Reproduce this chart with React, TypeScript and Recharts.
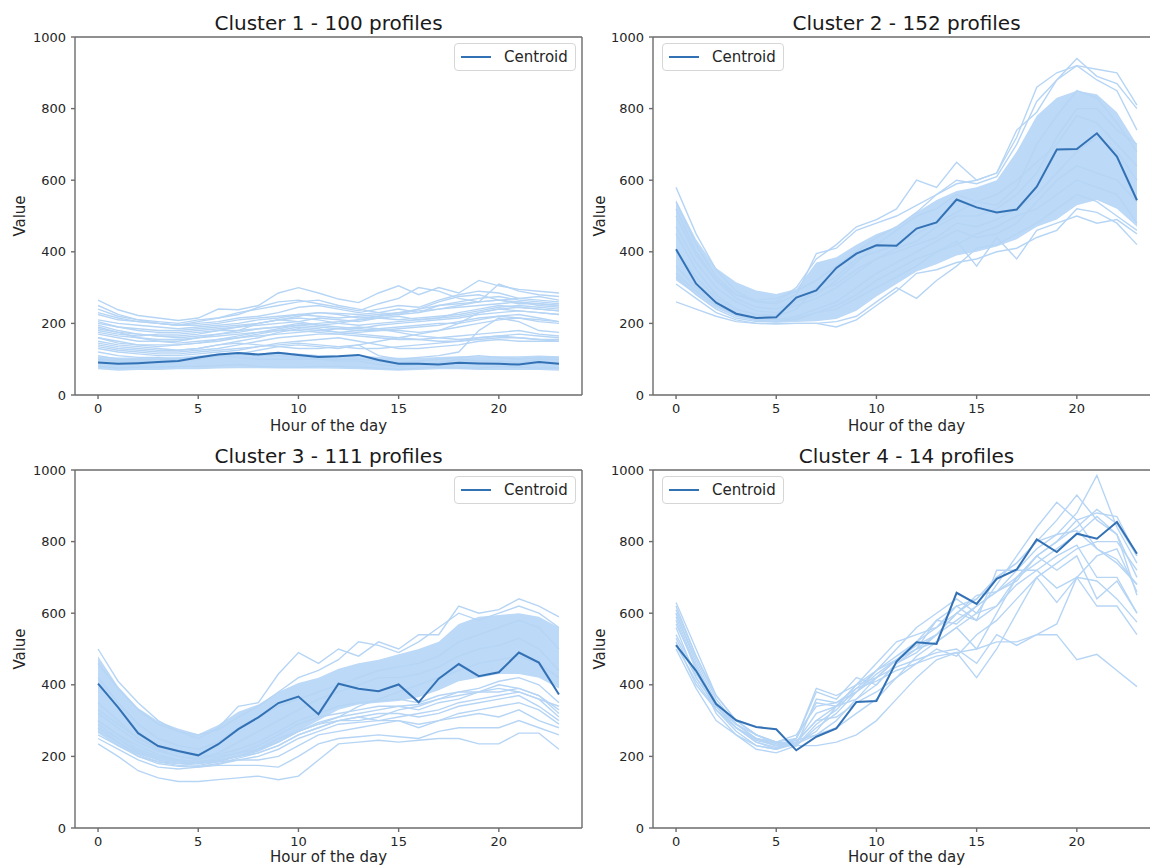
import React from "react";
import { ComposedChart, Line, Area, XAxis, YAxis, Legend } from "recharts";

const hours = [0, 1, 2, 3, 4, 5, 6, 7, 8, 9, 10, 11, 12, 13, 14, 15, 16, 17, 18, 19, 20, 21, 22, 23];
const xTicks = [0, 5, 10, 15, 20];
const yTicks = [0, 200, 400, 600, 800, 1000];

// Cluster 1 - 100 profiles
const c1Centroid = [91, 87, 89, 92, 95, 105, 113, 117, 113, 118, 112, 106, 108, 112, 98, 87, 87, 85, 90, 88, 87, 85, 92, 87];
const c1Low = [72, 68, 70, 70, 72, 72, 74, 75, 75, 74, 74, 74, 73, 72, 70, 68, 70, 72, 72, 70, 70, 70, 70, 68];
const c1High = [108, 105, 105, 105, 106, 110, 116, 120, 116, 120, 116, 112, 110, 112, 106, 104, 104, 106, 108, 108, 108, 108, 110, 108];
const c1Profiles: number[][] = [
    [265, 238, 222, 215, 208, 215, 240, 238, 250, 285, 300, 285, 268, 258, 285, 305, 280, 300, 285, 320, 305, 295, 290, 285],
    [240, 220, 210, 205, 200, 210, 215, 225, 245, 260, 265, 255, 245, 235, 255, 270, 300, 290, 270, 260, 310, 290, 280, 275],
    [225, 210, 205, 200, 195, 200, 205, 215, 220, 230, 245, 250, 240, 230, 240, 250, 245, 265, 280, 290, 285, 270, 275, 265],
    [210, 200, 195, 190, 185, 190, 195, 200, 210, 215, 225, 230, 228, 225, 230, 240, 230, 240, 250, 260, 265, 255, 255, 250],
    [200, 190, 180, 175, 175, 180, 185, 190, 195, 200, 205, 215, 210, 205, 215, 220, 210, 215, 230, 240, 250, 245, 240, 235],
    [190, 175, 170, 165, 160, 165, 170, 175, 185, 190, 200, 195, 190, 185, 195, 200, 205, 210, 215, 225, 230, 235, 230, 225],
    [180, 170, 165, 170, 170, 175, 180, 180, 185, 190, 195, 190, 185, 180, 180, 180, 175, 180, 190, 200, 210, 215, 205, 200],
    [170, 160, 150, 150, 145, 150, 155, 160, 170, 180, 190, 185, 175, 180, 185, 190, 195, 200, 200, 210, 220, 225, 215, 205],
    [160, 150, 140, 135, 140, 145, 150, 160, 165, 170, 175, 180, 185, 190, 185, 175, 165, 160, 155, 160, 165, 170, 165, 160],
    [150, 140, 135, 130, 125, 130, 140, 150, 160, 175, 185, 180, 175, 170, 165, 160, 155, 150, 150, 155, 160, 160, 155, 150],
    [140, 130, 125, 120, 120, 125, 130, 140, 150, 160, 165, 170, 170, 165, 160, 155, 155, 160, 165, 170, 175, 180, 170, 165],
    [130, 120, 115, 110, 110, 115, 120, 125, 135, 145, 150, 155, 160, 150, 140, 130, 130, 135, 140, 150, 155, 150, 150, 150],
    [145, 135, 130, 125, 125, 130, 140, 145, 140, 135, 130, 130, 135, 140, 110, 100, 105, 110, 120, 180, 215, 205, 180, 175],
    [120, 110, 105, 105, 100, 105, 110, 115, 125, 135, 140, 135, 130, 140, 150, 160, 170, 180, 200, 230, 240, 245, 240, 235],
    [185, 175, 160, 150, 150, 160, 170, 180, 200, 210, 205, 195, 200, 210, 220, 225, 230, 250, 260, 270, 275, 265, 260, 255],
    [250, 225, 210, 200, 195, 205, 215, 230, 240, 250, 260, 265, 250, 240, 230, 225, 240, 260, 275, 280, 265, 260, 250, 245],
    [230, 215, 205, 200, 195, 195, 200, 210, 215, 220, 225, 220, 215, 220, 225, 230, 235, 240, 245, 250, 255, 260, 255, 250],
    [205, 190, 185, 180, 180, 185, 190, 195, 200, 210, 215, 210, 200, 195, 200, 205, 210, 215, 220, 230, 240, 235, 230, 225],
    [175, 165, 160, 155, 155, 160, 165, 170, 175, 180, 180, 175, 170, 175, 180, 185, 190, 195, 205, 215, 220, 215, 210, 205],
    [135, 125, 120, 115, 115, 120, 125, 130, 135, 140, 145, 140, 135, 130, 130, 135, 140, 145, 150, 160, 165, 160, 155, 155],
    [195, 180, 170, 165, 165, 170, 180, 190, 200, 210, 220, 230, 225, 215, 220, 230, 240, 250, 255, 260, 265, 270, 265, 260],
    [160, 145, 140, 140, 140, 145, 155, 165, 175, 185, 195, 200, 205, 210, 215, 210, 215, 220, 225, 235, 245, 250, 245, 240],
    [110, 100, 100, 100, 100, 105, 110, 115, 110, 110, 105, 100, 100, 100, 95, 90, 95, 100, 105, 110, 105, 100, 105, 105],
    [100, 95, 95, 90, 95, 100, 110, 105, 100, 100, 100, 100, 95, 95, 85, 80, 85, 90, 100, 95, 95, 90, 100, 100],
    [80, 75, 78, 78, 80, 80, 82, 85, 80, 78, 78, 80, 80, 78, 75, 72, 75, 78, 76, 75, 80, 78, 75, 76],
];

// Cluster 2 - 152 profiles
const c2Centroid = [407, 311, 258, 227, 215, 217, 272, 292, 355, 395, 418, 417, 465, 482, 546, 524, 510, 518, 582, 686, 687, 731, 666, 544];
const c2Low = [320, 280, 242, 218, 206, 202, 204, 206, 212, 235, 275, 310, 345, 365, 390, 400, 415, 435, 470, 490, 530, 545, 520, 470];
const c2High = [545, 435, 355, 315, 292, 282, 296, 370, 385, 420, 450, 470, 510, 545, 570, 580, 600, 680, 780, 830, 850, 840, 790, 700];
const c2Profiles: number[][] = [
    [580, 450, 350, 290, 260, 255, 280, 395, 410, 460, 480, 500, 530, 560, 600, 590, 610, 700, 820, 880, 940, 890, 870, 800],
    [540, 420, 330, 280, 260, 260, 300, 380, 420, 470, 490, 520, 600, 580, 650, 600, 620, 720, 860, 900, 920, 910, 900, 810],
    [500, 390, 320, 280, 265, 270, 290, 320, 360, 400, 440, 470, 510, 560, 590, 600, 620, 740, 790, 880, 920, 880, 850, 740],
    [260, 240, 220, 205, 200, 198, 200, 200, 190, 210, 250, 290, 340, 350, 370, 380, 400, 410, 440, 460, 520, 510, 480, 420],
    [310, 270, 230, 210, 200, 200, 200, 200, 205, 220, 260, 300, 270, 320, 360, 410, 420, 450, 480, 520, 560, 540, 500, 460],
    [340, 290, 250, 225, 210, 205, 210, 230, 250, 280, 320, 350, 380, 400, 430, 360, 440, 380, 460, 480, 500, 480, 490, 450],
    [450, 350, 280, 240, 225, 220, 240, 300, 330, 380, 400, 420, 450, 480, 510, 540, 560, 600, 650, 700, 780, 760, 700, 640],
    [400, 330, 270, 240, 225, 225, 260, 290, 310, 350, 380, 400, 420, 440, 480, 470, 490, 520, 560, 620, 680, 720, 680, 600],
    [520, 400, 320, 270, 245, 240, 260, 280, 320, 370, 420, 460, 500, 520, 560, 540, 530, 580, 700, 780, 850, 830, 760, 680],
    [360, 300, 260, 230, 215, 210, 220, 240, 260, 300, 340, 370, 400, 430, 460, 440, 450, 480, 540, 600, 640, 620, 600, 540],
    [470, 370, 300, 260, 235, 230, 250, 270, 300, 340, 380, 410, 430, 470, 500, 500, 520, 560, 620, 720, 800, 800, 740, 700],
    [330, 280, 240, 215, 205, 205, 215, 230, 240, 270, 300, 330, 360, 400, 420, 450, 470, 500, 520, 560, 600, 580, 560, 480],
];

// Cluster 3 - 111 profiles
const c3Centroid = [403, 337, 265, 229, 215, 203, 234, 276, 309, 349, 367, 318, 403, 389, 382, 401, 351, 417, 458, 424, 435, 490, 462, 373];
const c3Low = [265, 228, 205, 190, 182, 178, 188, 200, 215, 240, 270, 300, 330, 345, 350, 355, 365, 385, 410, 420, 430, 430, 420, 390];
const c3High = [480, 395, 335, 298, 278, 262, 288, 325, 345, 380, 405, 420, 445, 460, 470, 485, 500, 520, 570, 590, 595, 600, 590, 560];
const c3Profiles: number[][] = [
    [235, 200, 160, 140, 130, 130, 135, 140, 145, 135, 145, 190, 235, 240, 245, 240, 245, 250, 250, 235, 235, 265, 265, 220],
    [250, 220, 190, 170, 165, 170, 175, 175, 175, 170, 200, 235, 250, 255, 260, 255, 250, 270, 280, 280, 280, 300, 280, 260],
    [280, 240, 200, 185, 180, 180, 185, 190, 190, 200, 230, 260, 270, 280, 290, 300, 280, 300, 310, 320, 310, 330, 300, 280],
    [300, 260, 220, 200, 190, 185, 190, 200, 210, 230, 260, 280, 300, 310, 320, 320, 310, 320, 340, 350, 360, 370, 340, 300],
    [320, 280, 240, 215, 200, 195, 200, 210, 230, 260, 290, 310, 320, 330, 340, 340, 330, 350, 360, 380, 400, 390, 370, 320],
    [500, 410, 350, 300, 270, 250, 280, 340, 350, 430, 490, 460, 500, 480, 520, 500, 540, 540, 620, 600, 610, 640, 620, 590],
    [460, 390, 330, 290, 270, 260, 275, 310, 340, 380, 420, 440, 470, 520, 510, 490, 520, 560, 600, 580, 600, 620, 600, 560],
    [350, 300, 250, 220, 200, 190, 210, 240, 270, 300, 330, 360, 380, 400, 420, 420, 430, 450, 480, 500, 510, 530, 500, 440],
    [420, 350, 290, 250, 230, 220, 240, 280, 310, 340, 360, 380, 400, 420, 440, 450, 460, 480, 520, 540, 560, 580, 560, 500],
    [280, 250, 210, 190, 180, 175, 185, 200, 220, 250, 270, 290, 310, 340, 360, 380, 400, 420, 440, 460, 470, 480, 460, 420],
    [300, 260, 230, 205, 190, 185, 195, 210, 220, 240, 270, 290, 300, 300, 310, 330, 340, 360, 380, 380, 390, 380, 360, 340],
    [330, 290, 250, 225, 210, 200, 205, 220, 240, 270, 300, 320, 340, 350, 355, 360, 350, 370, 380, 390, 410, 420, 400, 350],
    [260, 230, 200, 180, 172, 170, 178, 190, 200, 220, 250, 270, 290, 295, 300, 300, 290, 300, 320, 330, 340, 350, 330, 290],
    [290, 250, 215, 195, 185, 180, 188, 200, 215, 240, 270, 295, 310, 320, 330, 340, 345, 360, 370, 380, 380, 390, 370, 330],
    [270, 240, 205, 185, 175, 172, 180, 195, 210, 230, 260, 280, 300, 310, 300, 310, 320, 330, 350, 360, 370, 380, 360, 310],
];

// Cluster 4 - 14 profiles
const c4Centroid = [511, 439, 346, 301, 282, 276, 217, 255, 278, 352, 355, 465, 519, 514, 657, 626, 696, 722, 806, 771, 822, 808, 855, 766];
const c4Profiles: number[][] = [
    [630, 500, 370, 300, 260, 240, 235, 260, 300, 360, 420, 470, 520, 560, 600, 640, 700, 740, 800, 860, 930, 860, 820, 700],
    [610, 480, 360, 290, 250, 235, 230, 280, 320, 380, 440, 500, 560, 600, 640, 600, 680, 760, 840, 910, 860, 780, 750, 680],
    [600, 460, 340, 280, 240, 225, 240, 300, 340, 400, 460, 520, 540, 560, 620, 580, 720, 720, 780, 820, 880, 985, 840, 740],
    [590, 450, 330, 270, 230, 220, 235, 270, 340, 400, 440, 480, 520, 580, 570, 620, 660, 700, 760, 800, 840, 890, 850, 760],
    [580, 440, 320, 260, 220, 210, 230, 360, 350, 380, 420, 470, 510, 540, 600, 650, 660, 720, 720, 670, 700, 760, 780, 660],
    [560, 420, 340, 280, 240, 220, 240, 300, 310, 350, 380, 420, 460, 500, 480, 540, 580, 640, 700, 740, 780, 800, 800, 720],
    [520, 400, 330, 280, 250, 230, 230, 230, 240, 260, 300, 360, 420, 470, 490, 500, 520, 520, 540, 540, 470, 485, 440, 395],
    [500, 390, 300, 260, 230, 220, 250, 390, 370, 400, 420, 450, 470, 490, 500, 460, 540, 510, 540, 570, 700, 690, 640, 575],
    [540, 430, 350, 300, 260, 240, 260, 340, 350, 390, 410, 440, 460, 480, 490, 420, 500, 600, 700, 630, 700, 620, 620, 540],
    [620, 480, 370, 300, 260, 235, 240, 320, 340, 380, 430, 470, 500, 540, 600, 580, 620, 680, 720, 760, 790, 700, 700, 600],
    [600, 470, 350, 290, 250, 230, 250, 380, 360, 420, 400, 460, 500, 520, 560, 500, 600, 700, 740, 780, 820, 870, 820, 650],
    [570, 450, 340, 280, 245, 230, 245, 260, 280, 320, 360, 420, 480, 520, 560, 600, 620, 700, 760, 720, 760, 640, 690, 600],
    [510, 410, 330, 280, 250, 240, 250, 350, 340, 360, 400, 460, 490, 540, 580, 620, 660, 690, 760, 800, 860, 880, 870, 760],
    [530, 420, 340, 290, 260, 240, 230, 290, 330, 390, 440, 470, 500, 580, 620, 640, 700, 740, 800, 820, 830, 780, 740, 680],
];

const PROFILE = "#b6d5f5";
const BAND = "#bcd9f7";
const CENTROID = "#3371b5";
const SPINE = "#6b6b6b";
const TEXT = "#262626";
const FONT = "'DejaVu Sans', sans-serif";
const CHART_H = 440;

type Panel = {
    title: string;
    centroid: number[];
    profiles: number[][];
    low?: number[];
    high?: number[];
    left: number;
    top: number;
    width: number;
    yAxisWidth: number;
    marginRight: number;
    legendLeft: number;
    labelOffset: number;
};

const panels: Panel[] = [
    { title: "Cluster 1 - 100 profiles", centroid: c1Centroid, profiles: c1Profiles, low: c1Low, high: c1High, left: 0, top: 0, width: 584, yAxisWidth: 75, marginRight: 1, legendLeft: 454, labelOffset: 9 },
    { title: "Cluster 2 - 152 profiles", centroid: c2Centroid, profiles: c2Profiles, low: c2Low, high: c2High, left: 580, top: 0, width: 581, yAxisWidth: 73, marginRight: 0, legendLeft: 82, labelOffset: 9 },
    { title: "Cluster 3 - 111 profiles", centroid: c3Centroid, profiles: c3Profiles, low: c3Low, high: c3High, left: 0, top: 433, width: 584, yAxisWidth: 75, marginRight: 1, legendLeft: 454, labelOffset: 11 },
    { title: "Cluster 4 - 14 profiles", centroid: c4Centroid, profiles: c4Profiles, left: 580, top: 433, width: 581, yAxisWidth: 73, marginRight: 0, legendLeft: 82, labelOffset: 11 },
];

function CentroidLegend(props: any) {
    const items = (props.payload || []).filter((p: any) => p.dataKey === "centroid");
    return (
        <div
            style={{
                border: "1px solid #d6d6d6",
                borderRadius: 4,
                background: "rgba(255,255,255,0.85)",
                padding: "4px 7px 4px 6px",
                fontSize: 15,
                color: TEXT,
                fontFamily: FONT,
            }}
        >
            {items.map((entry: any) => (
                <div key={entry.value} style={{ display: "flex", alignItems: "center", height: 18 }}>
                    <svg width={30} height={6}>
                        <line x1={0} y1={3} x2={30} y2={3} stroke={entry.color} strokeWidth={2} />
                    </svg>
                    <span style={{ marginLeft: 13 }}>{entry.value}</span>
                </div>
            ))}
        </div>
    );
}

function ClusterPanel({ panel }: { panel: Panel }) {
    const data = hours.map((h, i) => {
        const row: Record<string, unknown> = { hour: h, centroid: panel.centroid[i] };
        if (panel.low && panel.high) row.band = [panel.low[i], panel.high[i]];
        panel.profiles.forEach((p, j) => {
            row[`p${j}`] = p[i];
        });
        return row;
    });

    const axisStroke = { stroke: SPINE, strokeWidth: 1.4 };
    const tickStyle = { fontSize: 13, fill: TEXT, fontFamily: FONT };

    return (
        <div style={{ position: "absolute", left: panel.left, top: panel.top, width: panel.width, height: CHART_H }}>
            <div
                style={{
                    position: "absolute",
                    left: panel.yAxisWidth,
                    width: 507,
                    top: 13,
                    textAlign: "center",
                    fontSize: 20,
                    lineHeight: 1,
                    color: "#1a1a1a",
                    fontFamily: FONT,
                    whiteSpace: "nowrap",
                }}
            >
                {panel.title}
            </div>
            <ComposedChart
                width={panel.width}
                height={CHART_H}
                data={data}
                margin={{ top: 36, right: panel.marginRight, bottom: 0, left: 0 }}
            >
                <XAxis
                    dataKey="hour"
                    type="number"
                    domain={[-1.15, 24.15]}
                    ticks={xTicks}
                    allowDataOverflow
                    height={CHART_H - 395}
                    tickSize={4}
                    tickMargin={5}
                    tick={tickStyle}
                    axisLine={axisStroke}
                    tickLine={axisStroke}
                    label={{ value: "Hour of the day", position: "insideBottom", offset: panel.labelOffset, fontSize: 15, fill: TEXT }}
                />
                <XAxis
                    xAxisId="top"
                    orientation="top"
                    type="number"
                    domain={[-1.15, 24.15]}
                    allowDataOverflow
                    height={1}
                    tick={false}
                    tickLine={false}
                    axisLine={axisStroke}
                />
                <YAxis
                    type="number"
                    domain={[0, 1000]}
                    ticks={yTicks}
                    allowDataOverflow
                    width={panel.yAxisWidth}
                    tickSize={4}
                    tickMargin={5}
                    tick={tickStyle}
                    axisLine={axisStroke}
                    tickLine={axisStroke}
                    label={{
                        value: "Value",
                        angle: -90,
                        position: "insideLeft",
                        offset: 20,
                        fontSize: 15,
                        fill: TEXT,
                        style: { textAnchor: "middle" },
                    }}
                />
                <YAxis
                    yAxisId="right"
                    orientation="right"
                    type="number"
                    domain={[0, 1000]}
                    width={1}
                    tick={false}
                    tickLine={false}
                    axisLine={axisStroke}
                />
                {panel.low && panel.high ? (
                    <Area
                        dataKey="band"
                        type="linear"
                        stroke="none"
                        fill={BAND}
                        fillOpacity={1}
                        legendType="none"
                        isAnimationActive={false}
                        activeDot={false}
                    />
                ) : null}
                {panel.profiles.map((_, j) => (
                    <Line
                        key={j}
                        dataKey={`p${j}`}
                        type="linear"
                        stroke={PROFILE}
                        strokeWidth={1.4}
                        dot={false}
                        activeDot={false}
                        legendType="none"
                        isAnimationActive={false}
                    />
                ))}
                <Line
                    dataKey="centroid"
                    name="Centroid"
                    type="linear"
                    stroke={CENTROID}
                    strokeWidth={2}
                    dot={false}
                    activeDot={false}
                    isAnimationActive={false}
                />
                <Legend
                    layout="vertical"
                    align="center"
                    verticalAlign="middle"
                    content={<CentroidLegend />}
                    wrapperStyle={{ left: panel.legendLeft, top: 43, width: "auto", height: "auto" }}
                />
            </ComposedChart>
        </div>
    );
}

export default function App() {
    return (
        <div
            style={{
                position: "fixed",
                left: 0,
                top: 0,
                width: 1150,
                height: 866,
                overflow: "hidden",
                background: "#fff",
                fontFamily: FONT,
            }}
        >
            {panels.map((p) => (
                <ClusterPanel key={p.title} panel={p} />
            ))}
        </div>
    );
}
